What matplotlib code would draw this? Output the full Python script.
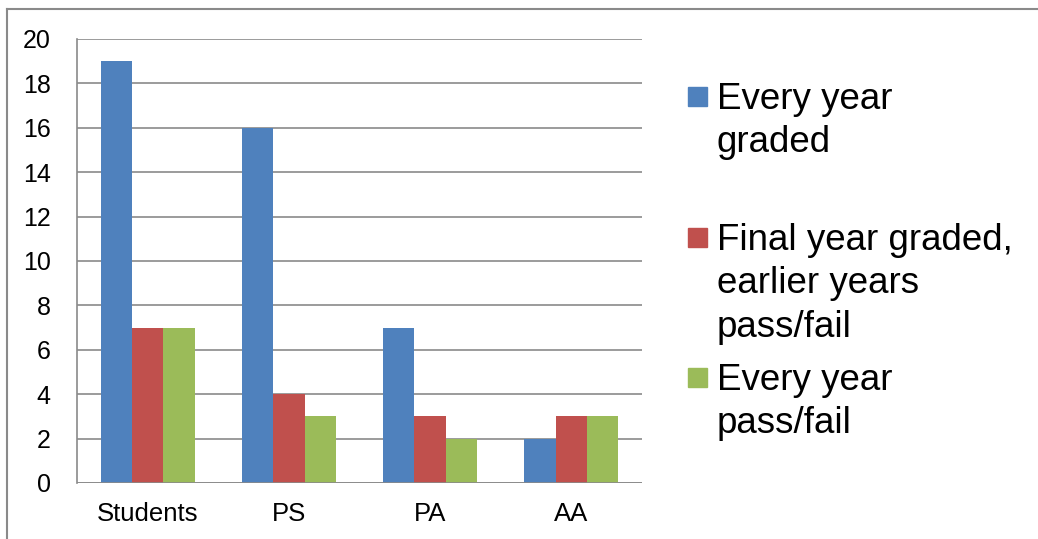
import matplotlib.pyplot as plt
import numpy as np
from matplotlib.patches import Rectangle
from matplotlib.lines import Line2D

plt.rcParams["font.family"] = ["Liberation Sans", "DejaVu Sans"]

categories = ["Students", "PS", "PA", "AA"]
series_names = [
    "Every year\ngraded",
    "Final year graded,\nearlier years\npass/fail",
    "Every year\npass/fail",
]
every_year_graded = [19, 16, 7, 2]
final_year_graded = [7, 4, 3, 3]
every_year_pass_fail = [7, 3, 2, 3]
yticks = [0, 2, 4, 6, 8, 10, 12, 14, 16, 18, 20]

colors = ["#4F81BD", "#C0504D", "#9BBB59"]
grid_color = "#8a8a8a"

fig = plt.figure(figsize=(10.38, 5.39), dpi=100)
ax = fig.add_axes([77 / 1038, 1 - 483 / 539, (642 - 77) / 1038, (483 - 39) / 539])

x = np.arange(len(categories))
bar_w = 1 / 4.5
values = [every_year_graded, final_year_graded, every_year_pass_fail]
for i, (vals, col) in enumerate(zip(values, colors)):
    ax.bar(x + (i - 1) * bar_w, vals, width=bar_w, color=col, zorder=3)

ax.set_xlim(-0.5, len(categories) - 0.5)
ax.set_ylim(0, 20)
ax.set_yticks(yticks)
ax.set_xticks(x)
ax.set_xticklabels(categories)
ax.tick_params(axis="y", length=0, pad=19, labelsize=18)
ax.tick_params(axis="x", length=0, pad=14, labelsize=18.5)
ax.yaxis.grid(True, color=grid_color, linewidth=1.2, zorder=0)
for side in ["top", "right", "bottom"]:
    ax.spines[side].set_visible(False)
ax.spines["left"].set_color(grid_color)
ax.spines["left"].set_linewidth(1.2)
ax.axhline(0, color=grid_color, linewidth=1.2, zorder=4)

# hand-placed legend, squares aligned with first text line
first_line_y = [97, 238, 378]
for name, col, yc in zip(series_names, colors, first_line_y):
    fig.patches.append(Rectangle((688 / 1038, 1 - (yc + 9) / 539), 19 / 1038, 19 / 539,
                                 transform=fig.transFigure, color=col))
    fig.text(717 / 1038, 1 - (yc - 15) / 539, name, fontsize=26.5, va="top", ha="left",
             linespacing=1.31)

# outer chart border (left and top visible)
fig.add_artist(Line2D([7 / 1038, 7 / 1038], [0, 1 - 9 / 539], transform=fig.transFigure,
                      color=grid_color, linewidth=1.5))
fig.add_artist(Line2D([7 / 1038, 1], [1 - 9 / 539, 1 - 9 / 539], transform=fig.transFigure,
                      color=grid_color, linewidth=1.5))

fig.savefig("out.png", dpi=100)
